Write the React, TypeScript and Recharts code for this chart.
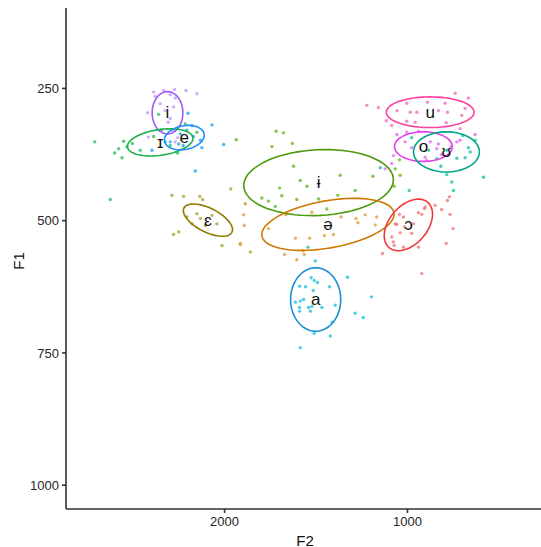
import React from 'react';
import { ScatterChart, Scatter, XAxis, YAxis } from 'recharts';

// vowel categories (factor order)
const vowels = ['i', 'ɪ', 'e', 'ɛ', 'ɨ', 'ə', 'a', 'ɔ', 'u', 'o', 'ʊ'];

// raw tokens, [F2, F1] in Hz
const ptsI: [number, number][] = [
  [2388, 257], [2333, 254], [2273, 252], [2211, 254], [2151, 260], [2421, 296], [2379, 265],
  [2297, 262], [2270, 268], [2352, 279], [2279, 285], [2297, 307], [2341, 329], [2279, 331],
  [2257, 343], [2417, 342], [2270, 351], [2325, 292], [2308, 314],
];
const ptsIh: [number, number][] = [
  [2710, 351], [2552, 350], [2579, 364], [2601, 372], [2561, 381], [2534, 360], [2361, 299],
  [2388, 341], [2325, 351], [2257, 372], [2215, 317], [2151, 333], [2625, 460], [2297, 358],
  [2352, 329], [2461, 367], [2504, 354],
];
const ptsE: [number, number][] = [
  [2200, 297], [2069, 319], [2005, 356], [2160, 406], [2242, 336], [2178, 320], [2132, 348],
  [2397, 367], [2297, 351], [2251, 355], [2124, 362], [2206, 329], [2171, 341], [2226, 358],
];
const ptsEh: [number, number][] = [
  [2288, 452], [2224, 454], [2136, 454], [2120, 460], [1966, 440], [2206, 493], [2151, 487],
  [2132, 496], [2178, 506], [2042, 506], [2069, 490], [2279, 526], [2251, 521], [2014, 547],
  [1914, 543], [1859, 559], [2105, 509], [1887, 468],
];
const ptsBarI: [number, number][] = [
  [1936, 347], [1718, 331], [1678, 334], [1741, 360], [1629, 354], [1623, 397], [1699, 438],
  [1796, 457], [1760, 463], [1687, 453], [1605, 460], [1550, 435], [1486, 459], [1441, 478],
  [1381, 452], [1723, 473], [1189, 416], [1073, 435], [1040, 414], [1067, 402], [1044, 385],
  [1586, 424], [1368, 414], [1286, 443],
];
const ptsSchwa: [number, number][] = [
  [1896, 489], [1892, 509], [1914, 545], [1760, 515], [1672, 564], [1605, 574], [1564, 564],
  [1613, 533], [1535, 533], [1405, 526], [1363, 493], [1282, 496], [1271, 504], [1231, 489],
  [1168, 493], [1176, 508], [1454, 528], [1665, 489], [1523, 484], [1572, 557],
];
const ptsA: [number, number][] = [
  [1504, 576], [1328, 607], [1527, 608], [1510, 613], [1492, 617], [1426, 625], [1590, 624],
  [1557, 625], [1515, 632], [1613, 654], [1586, 652], [1568, 649], [1590, 664], [1590, 671],
  [1541, 664], [1531, 671], [1468, 664], [1395, 660], [1197, 644], [1286, 675], [1242, 683],
  [1412, 692], [1510, 713], [1422, 718], [1586, 740], [1523, 662],
];
const ptsOpenO: [number, number][] = [
  [1137, 562], [1086, 531], [1058, 507], [1022, 493], [907, 477], [922, 600], [1073, 547],
  [1022, 550], [1044, 488], [940, 485], [922, 488], [903, 474], [813, 479], [767, 488],
  [782, 462], [771, 455], [1067, 506], [1040, 523], [1077, 540], [977, 524], [967, 506],
  [849, 471], [940, 550], [1016, 512], [751, 515], [788, 543],
];
const ptsU: [number, number][] = [
  [1222, 282], [1159, 286], [1004, 278], [891, 276], [739, 259], [667, 268], [794, 278],
  [1057, 292], [985, 295], [949, 295], [831, 292], [782, 295], [685, 288], [1116, 311],
  [1086, 320], [1004, 312], [958, 314], [703, 301], [712, 326], [788, 315],
];
const ptsO: [number, number][] = [
  [1058, 337], [1004, 333], [940, 331], [1013, 351], [977, 362], [876, 351], [831, 355],
  [903, 380], [840, 364], [813, 375], [730, 351], [712, 348], [630, 337], [1122, 402],
  [1086, 392], [1077, 377], [895, 386], [763, 360],
];
const ptsUh: [number, number][] = [
  [977, 343], [885, 367], [785, 367], [667, 362], [657, 370], [730, 382], [685, 381],
  [817, 397], [785, 413], [758, 427], [749, 443], [585, 418], [991, 443], [1149, 400],
  [698, 339], [630, 348], [840, 383], [1544, 550],
];
const tokens = [ptsI, ptsIh, ptsE, ptsEh, ptsBarI, ptsSchwa, ptsA, ptsOpenO, ptsU, ptsO, ptsUh];

// 95% ellipse: centre and two conjugate half-axes, in Hz
const centerF2 = [2312, 2352, 2220, 2091, 1486, 1435, 1502, 995, 876, 913, 787];
const centerF1 = [296, 352, 343, 499, 428, 507, 649, 508, 295, 360, 370];
const axisU: [number, number][] = [
  [-84, 0], [-179, -9], [-108, -7], [-131, 23], [-409, -7], [-361, -22], [-137, 0],
  [-105, -43], [-240, 0], [-158, 0], [-180, 0],
];
const axisV: [number, number][] = [
  [0, 40], [-10, 24], [-12, 22], [30, 20], [-10, 62], [-22, 44], [0, 60],
  [-80, 23], [0, 29], [0, 28], [0, 38],
];

const xTicks = [1000, 2000];
const yTicks = [250, 500, 750, 1000];

const lineColors = [
  '#A05AF2', '#1FB04C', '#1E8FFF', '#8C7A00', '#4A9A0A', '#D07800',
  '#1A8FD4', '#F03A3A', '#FF3FA0', '#E040E8', '#00A68A',
];
const dotColors = [
  '#C49AF5', '#2EC060', '#1EA8F0', '#B0A030', '#6AB820', '#E0A040',
  '#20C0E0', '#F07878', '#F070C0', '#E070F0', '#20C0A0',
];

const FONT = '"Liberation Sans", Arial, "DejaVu Sans", sans-serif';

function ellipsePath(k: number) {
  const out: { f2: number; f1: number }[] = [];
  for (let s = 0; s <= 72; s++) {
    const t = (s / 72) * Math.PI * 2;
    const c = Math.cos(t);
    const n = Math.sin(t);
    out.push({
      f2: centerF2[k] + axisU[k][0] * c + axisV[k][0] * n,
      f1: centerF1[k] + axisU[k][1] * c + axisV[k][1] * n,
    });
  }
  return out;
}

const labelData = vowels.map((v, k) => ({ f2: centerF2[k], f1: centerF1[k], v }));

export default function App() {
  return (
    <div style={{ position: 'absolute', left: 0, top: 0, width: 541, height: 547, background: '#fff' }}>
      <ScatterChart width={541} height={547} margin={{ top: 8, right: 0, bottom: 0, left: 0 }}>
        <XAxis
          type="number"
          dataKey="f2"
          domain={[270, 2867]}
          reversed
          allowDataOverflow
          ticks={xTicks}
          height={38}
          tickSize={4}
          tickMargin={4}
          axisLine={{ stroke: '#333', strokeWidth: 1.6 }}
          tickLine={{ stroke: '#333', strokeWidth: 1.6 }}
          tick={{ fill: '#262626', fontSize: 13, fontFamily: FONT }}
        />
        <YAxis
          type="number"
          dataKey="f1"
          domain={[98, 1045]}
          reversed
          allowDataOverflow
          ticks={yTicks}
          width={66}
          tickSize={4}
          tickMargin={3}
          axisLine={{ stroke: '#333', strokeWidth: 1.6 }}
          tickLine={{ stroke: '#333', strokeWidth: 1.6 }}
          tick={{ fill: '#262626', fontSize: 13, fontFamily: FONT }}
        />
        {tokens.map((pts, k) => (
          <Scatter
            key={'p' + k}
            data={pts.map(([f2, f1]) => ({ f2, f1 }))}
            isAnimationActive={false}
            shape={(p: any) => (
              <circle cx={p.cx} cy={p.cy} r={1.7} fill={dotColors[k]} fillOpacity={0.8} />
            )}
          />
        ))}
        {vowels.map((v, k) => (
          <Scatter
            key={'e' + k}
            data={ellipsePath(k)}
            fill={lineColors[k]}
            line={{ stroke: lineColors[k], strokeWidth: 1.6 }}
            lineJointType="linear"
            isAnimationActive={false}
            shape={() => <g />}
          />
        ))}
        <Scatter
          data={labelData}
          isAnimationActive={false}
          shape={(p: any) => (
            <text
              x={p.cx}
              y={p.cy}
              textAnchor="middle"
              dominantBaseline="central"
              fontSize={17}
              fontFamily={FONT}
              fill="#111"
            >
              {p.payload.v}
            </text>
          )}
        />
      </ScatterChart>
      <div
        style={{
          position: 'absolute',
          left: 18,
          top: 261,
          transform: 'translate(-50%, -50%) rotate(-90deg)',
          fontFamily: FONT,
          fontSize: 15,
          color: '#111',
        }}
      >
        F1
      </div>
      <div
        style={{
          position: 'absolute',
          left: 305,
          top: 540,
          transform: 'translate(-50%, -50%)',
          fontFamily: FONT,
          fontSize: 15,
          color: '#111',
        }}
      >
        F2
      </div>
    </div>
  );
}
